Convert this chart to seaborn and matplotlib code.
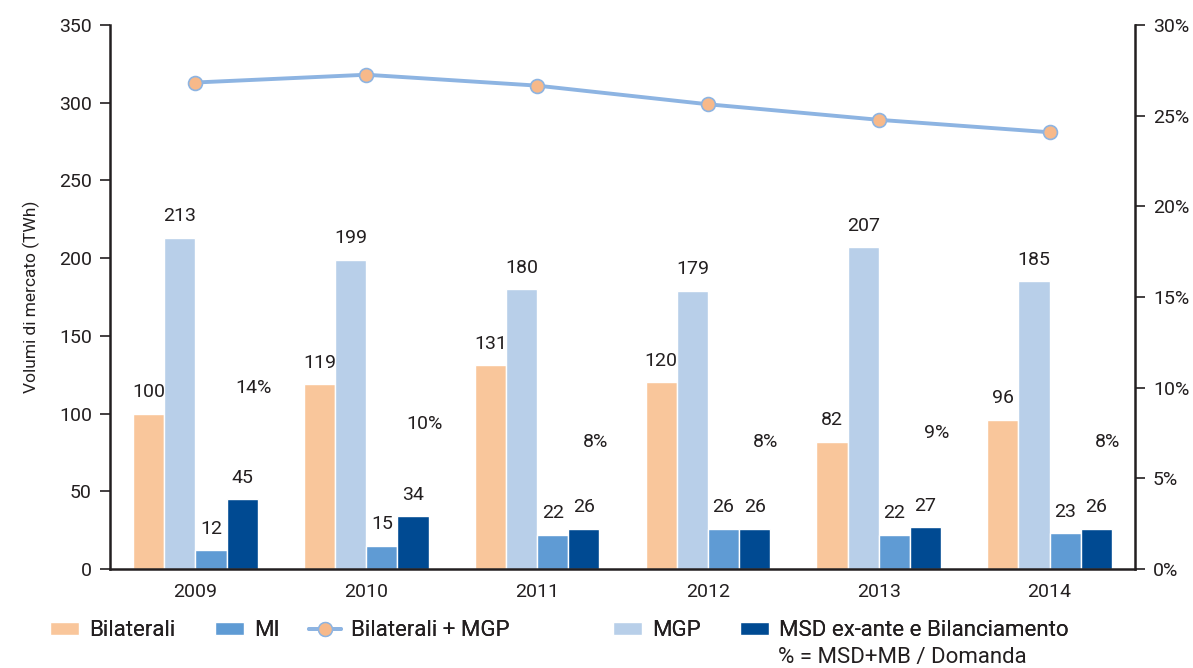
import matplotlib
matplotlib.use("Agg")
import matplotlib.pyplot as plt
from matplotlib.patches import Patch
from matplotlib.lines import Line2D
from matplotlib.ticker import FuncFormatter, FixedLocator
import numpy as np
import pandas as pd
import seaborn as sns

# --- data ---------------------------------------------------------------
years = ["2009", "2010", "2011", "2012", "2013", "2014"]
bilaterali = [100, 119, 131, 120, 82, 96]
mgp = [213, 199, 180, 179, 207, 185]
mi = [12, 15, 22, 26, 22, 23]
msd = [45, 34, 26, 26, 27, 26]
msd_share = [14, 10, 8, 8, 9, 8]  # % = MSD+MB / Domanda

series_names = ["Bilaterali", "MGP", "MI", "MSD ex-ante e Bilanciamento"]
series_values = [bilaterali, mgp, mi, msd]
colors = {
    "Bilaterali": "#F9C69B",
    "MGP": "#B8CFE9",
    "MI": "#5F9BD4",
    "MSD ex-ante e Bilanciamento": "#004A92",
}
line_color = "#8DB4E2"
marker_color = "#F7B98A"
text_color = "#231F20"

df = pd.DataFrame(
    [(y, name, v) for name, vals in zip(series_names, series_values)
     for y, v in zip(years, vals)],
    columns=["anno", "serie", "TWh"],
)
totals = [b + m for b, m in zip(bilaterali, mgp)]

# --- style ----------------------------------------------------------------
sns.set_theme(style="white")
plt.rcParams["font.family"] = ["Roboto", "DejaVu Sans"]
plt.rcParams["text.color"] = text_color
plt.rcParams["axes.labelcolor"] = text_color
plt.rcParams["xtick.color"] = text_color
plt.rcParams["ytick.color"] = text_color

fig = plt.figure(figsize=(11.93, 6.68), dpi=100)
ax = fig.add_axes([110 / 1193, 99 / 668, 1025 / 1193, 544 / 668])

sns.barplot(
    data=df, x="anno", y="TWh", hue="serie", hue_order=series_names,
    palette=colors, width=0.73, edgecolor="white", linewidth=1.0,
    saturation=1, legend=False, ax=ax,
)

# value labels above each bar
for cont in ax.containers:
    ax.bar_label(cont, fmt="%d", padding=9, fontsize=14, color=text_color)

# Bilaterali + MGP line on the same volume scale
x_pos = np.arange(len(years))
sns.lineplot(
    x=x_pos, y=totals, ax=ax, color=line_color, linewidth=2.8,
    marker="o", markersize=10, markerfacecolor=marker_color,
    markeredgecolor=line_color, markeredgewidth=1.2, zorder=5,
)

# share labels next to each group
for xi, p in zip(x_pos, msd_share):
    ax.text(xi + 0.34, 36 + 5.75 * p, f"{p}%", ha="center", va="center",
            fontsize=14, color=text_color)

ax.set_xlim(-0.5, len(years) - 0.5)
ax.set_ylim(0, 350)
ax.set_yticks(range(0, 351, 50))
ax.set_xlabel("")
ax.set_ylabel("Volumi di mercato (TWh)", fontsize=12.5, labelpad=14)

# x axis: labels centred, tick marks between categories
ax.xaxis.set_minor_locator(FixedLocator(np.arange(-0.5, len(years), 1.0)))
ax.tick_params(axis="x", which="major", length=0, pad=10, labelsize=14)
ax.tick_params(axis="x", which="minor", length=7, width=1.2, direction="out",
               color=text_color)
ax.tick_params(axis="y", which="major", length=7, width=1.2, direction="out",
               left=True, labelsize=14, pad=6)

for side in ["left", "bottom"]:
    ax.spines[side].set_color(text_color)
    ax.spines[side].set_linewidth(1.8)
ax.spines["top"].set_visible(False)
ax.spines["right"].set_visible(False)

# right-hand percentage scale
ax2 = ax.twinx()
ax2.set_ylim(0, 0.30)
ax2.set_yticks(np.arange(0, 0.301, 0.05))
ax2.yaxis.set_major_formatter(FuncFormatter(lambda v, _: f"{v * 100:.0f}%"))
ax2.tick_params(axis="y", length=7, width=1.2, direction="out", right=True,
                labelsize=14, pad=6)
ax2.grid(False)
ax2.spines["right"].set_color(text_color)
ax2.spines["right"].set_linewidth(1.8)
for side in ["top", "left", "bottom"]:
    ax2.spines[side].set_visible(False)

# --- legend ---------------------------------------------------------------
legend_items = [
    (Patch(facecolor=colors["Bilaterali"]), "Bilaterali", 50),
    (Patch(facecolor=colors["MI"]), "MI", 215),
    (Line2D([], [], color=line_color, linewidth=2.8, marker="o", markersize=10,
            markerfacecolor=marker_color, markeredgecolor=line_color),
     "Bilaterali + MGP", 309),
    (Patch(facecolor=colors["MGP"]), "MGP", 613),
    (Patch(facecolor=colors["MSD ex-ante e Bilanciamento"]),
     "MSD ex-ante e Bilanciamento", 740),
]
for handle, label, xpx in legend_items:
    is_line = isinstance(handle, Line2D)
    leg = fig.legend(
        [handle], [label], loc="center left",
        bbox_to_anchor=(xpx / 1193, 1 - 631 / 668),
        frameon=False, fontsize=16, borderpad=0, borderaxespad=0,
        handlelength=1.45 if is_line else 1.3, handleheight=0.55,
        handletextpad=0.45,
    )
    fig.add_artist(leg)

fig.text(778 / 1193, 1 - 657 / 668, "% = MSD+MB / Domanda", fontsize=16,
         ha="left", va="center", color=text_color)

fig.savefig("out.png", dpi=100)
